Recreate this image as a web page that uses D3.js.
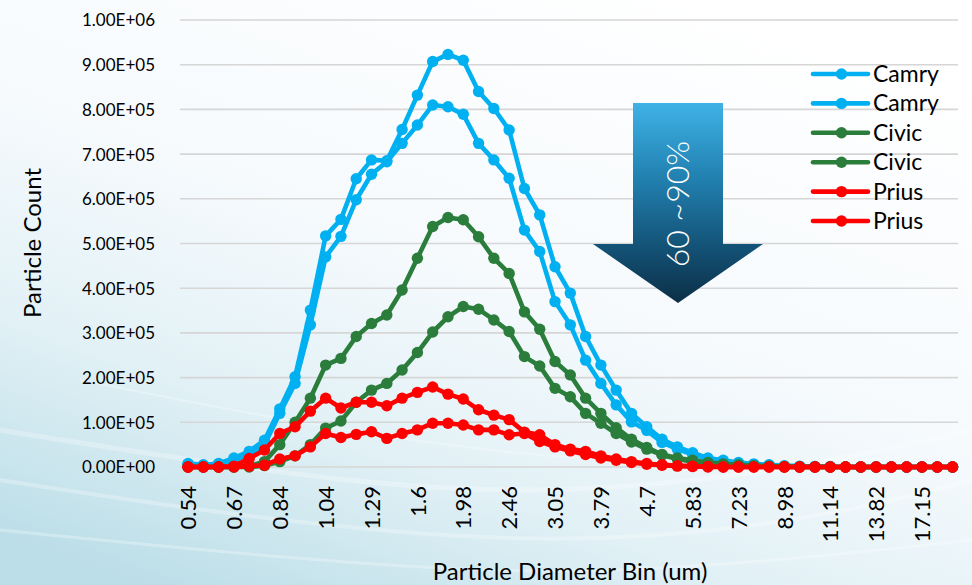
<!DOCTYPE html>
<html><head><meta charset="utf-8">
<script src="https://cdn.jsdelivr.net/npm/d3@7"></script>
<style>
body{margin:0;overflow:hidden;background:#fff}
svg{display:block}
text{font-family:Lato,"Open Sans",sans-serif;fill:#000}
</style>
</head><body>
<svg id="c" width="972" height="585"></svg>
<script>
// ---------------- data ----------------
const categories = ["0.54","0.58","0.63","0.67","0.72","0.78","0.84","0.9","0.97","1.04","1.11","1.2","1.29","1.38","1.49","1.6","1.72","1.84","1.98","2.13","2.29","2.46","2.64","2.84","3.05","3.28","3.52","3.79","4.07","4.37","4.7","5.05","5.42","5.83","6.26","6.73","7.23","7.77","8.35","8.98","9.65","10.37","11.14","11.97","12.86","13.82","14.86","15.96","17.15","18.43","19.81"];

const camry1 = [8000,5000,8000,20000,35000,60000,130000,202000,351000,517000,554000,645000,687000,685000,755000,832000,907000,923000,910000,840000,802000,754000,623000,564000,448000,389000,292000,228000,172000,120000,90000,62000,45000,32000,20000,15000,10000,7000,5000,3000,2000,1000,1000,0,0,0,0,0,0,0,0];
const camry2 = [6000,4000,6000,15000,28000,50000,120000,187000,318000,470000,516000,598000,655000,683000,724000,765000,810000,806000,789000,724000,687000,646000,530000,482000,370000,318000,239000,187000,139000,101000,82000,55000,40000,28000,18000,12000,8000,5000,4000,2000,1000,1000,0,0,0,0,0,0,0,0,0];
const civic1 = [0,0,0,0,2000,12000,50000,100000,154000,228000,243000,292000,321000,340000,396000,467000,538000,558000,553000,515000,467000,433000,347000,308000,236000,206000,154000,120000,88000,62000,44000,28000,20000,15000,10000,7000,5000,3000,2000,1000,0,0,0,0,0,0,0,0,0,0,0];
const civic2 = [0,0,0,0,0,3000,12000,25000,50000,87000,103000,145000,172000,187000,217000,256000,302000,336000,359000,353000,329000,303000,247000,226000,176000,157000,120000,98000,75000,56000,40000,27000,18000,12000,8000,5000,3000,2000,1000,0,0,0,0,0,0,0,0,0,0,0,0];
const prius1 = [0,0,0,2000,19000,38000,75000,90000,125000,154000,132000,145000,145000,137000,154000,167000,179000,163000,152000,128000,116000,106000,78000,72000,50000,40000,35000,25000,18000,12000,8000,5000,3000,2000,1000,0,0,0,0,0,0,0,0,0,0,0,0,0,0,0,0];
const prius2 = [0,0,0,0,2000,4000,18000,25000,45000,75000,66000,73000,79000,64000,75000,83000,98000,98000,94000,83000,83000,72000,75000,57000,45000,36000,28000,20000,15000,10000,6000,4000,2000,1000,0,0,0,0,0,0,0,0,0,0,0,0,0,0,0,0,0];

const seriesNames = ["Camry","Camry","Civic","Civic","Prius","Prius"];
const seriesValues = [camry1, camry2, civic1, civic2, prius1, prius2];
const yTicks = [0,100000,200000,300000,400000,500000,600000,700000,800000,900000,1000000];
const xLabelEvery = 3;
const arrowLabel = "60 ~90%";
const xTitle = "Particle Diameter Bin (um)";
const yTitle = "Particle Count";

// ---------------- styles ----------------
const colors = {Camry:"#00b0f0", Civic:"#2b7d3c", Prius:"#ff0000"};
const W = 972, H = 585;
const plot = {left:180.4, right:960.2, top:20, bottom:467};

const svg = d3.select("#c");
const defs = svg.append("defs");

// background
const bg = defs.append("linearGradient").attr("id","bg")
  .attr("x1","0.75").attr("y1","0").attr("x2","0.15").attr("y2","1");
[["0","#ffffff"],["0.45","#f6fafd"],["0.72","#e2f1f6"],["1","#bcdee8"]]
  .forEach(([o,c])=>bg.append("stop").attr("offset",o).attr("stop-color",c));
svg.append("rect").attr("width",W).attr("height",H).attr("fill","url(#bg)");

// faint wave streaks (decoration)
const waveG = svg.append("g").attr("fill","none").attr("stroke","#ffffff").attr("stroke-linecap","round");
const waveLine = d3.line().curve(d3.curveBasis);
const waves = [
  [[0,430],[250,470],[520,500],[800,470],[972,430]],
  [[0,480],[260,520],[560,548],[820,520],[972,480]],
  [[0,530],[300,560],[600,580],[972,540]],
  [[80,380],[330,430],[620,470],[972,455]]
];
waves.forEach((w,i)=>waveG.append("path").attr("d",waveLine(w))
  .attr("stroke-width",5-i).attr("stroke-opacity",0.28));

// scales
const x = d3.scalePoint().domain(categories).range([plot.left, plot.right]).padding(0.5);
const y = d3.scaleLinear().domain([0,1000000]).range([plot.bottom, plot.top]);

function fmtE(v){
  if(v===0) return "0.00E+00";
  const e = Math.floor(Math.log10(v));
  const m = v/Math.pow(10,e);
  return m.toFixed(2)+"E"+(e<0?"-":"+")+String(Math.abs(e)).padStart(2,"0");
}

// gridlines
svg.append("g").selectAll("line").data(yTicks).join("line")
  .attr("x1",180).attr("x2",958)
  .attr("y1",d=>y(d)).attr("y2",d=>y(d))
  .attr("stroke","#d6d6d6").attr("stroke-width",1.6);

// y axis labels
const yAxis = d3.axisLeft(y).tickValues(yTicks).tickFormat(fmtE).tickSize(0).tickPadding(0);
const yg = svg.append("g").attr("transform","translate(155,0)").call(yAxis);
yg.select(".domain").remove();
yg.selectAll("text").attr("font-size",17).attr("dy","0.35em")
  .style("font-family","Lato, sans-serif").attr("fill","#000");

// x axis labels
const xAxis = d3.axisBottom(x).tickValues(categories.filter((d,i)=>i%xLabelEvery===0)).tickSize(0).tickPadding(0);
const xg = svg.append("g").attr("transform","translate(0,486)").call(xAxis);
xg.select(".domain").remove();
xg.selectAll("text")
  .attr("font-size",22).attr("text-anchor","end")
  .attr("transform","rotate(-90)")
  .attr("x",0).attr("y",0).attr("dy","0.35em")
  .style("font-family","Lato, sans-serif").attr("fill","#000");

// axis titles
svg.append("text").attr("x",570).attr("y",580).attr("text-anchor","middle")
  .attr("font-size",24).text(xTitle);
svg.append("text").attr("transform","translate(41,243) rotate(-90)")
  .attr("text-anchor","middle").attr("font-size",24).text(yTitle);

// series
const line = d3.line().x((d,i)=>x(categories[i])).y(d=>y(d));
const sg = svg.append("g");
seriesValues.forEach((vals,k)=>{
  const col = colors[seriesNames[k]];
  const g = sg.append("g");
  g.append("path").attr("d",line(vals)).attr("fill","none")
    .attr("stroke",col).attr("stroke-width",4.6).attr("stroke-linejoin","round");
  g.selectAll("circle").data(vals).join("circle")
    .attr("cx",(d,i)=>x(categories[i])).attr("cy",d=>y(d)).attr("r",5.7)
    .attr("fill",col);
});

// arrow annotation
const ag = defs.append("linearGradient").attr("id","arrowGrad")
  .attr("x1","0").attr("y1","0").attr("x2","0").attr("y2","1");
[["0","#3fb2e6"],["0.35","#2384b4"],["0.7","#14557a"],["1","#0b2f46"]]
  .forEach(([o,c])=>ag.append("stop").attr("offset",o).attr("stop-color",c));
const arrowPts = [[633,103],[723,103],[723,244],[763,244],[678,303],[593,244],[633,244]];
svg.append("path").attr("d","M"+arrowPts.map(p=>p.join(",")).join("L")+"Z")
  .attr("fill","url(#arrowGrad)");
svg.append("text").attr("transform","translate(678,204) rotate(-90)")
  .attr("text-anchor","middle").attr("dy","0.35em")
  .attr("font-size",32).attr("font-weight",300).style("fill","#ffffff")
  .text(arrowLabel);

// legend
const lg = svg.append("g");
const legY0 = 74, legStep = 29.4;
seriesNames.forEach((n,k)=>{
  const yy = legY0 + k*legStep;
  const col = colors[n];
  lg.append("line").attr("x1",813).attr("x2",868).attr("y1",yy).attr("y2",yy)
    .attr("stroke",col).attr("stroke-width",4.6).attr("stroke-linecap","round");
  lg.append("circle").attr("cx",841.5).attr("cy",yy).attr("r",5.7).attr("fill",col);
  lg.append("text").attr("x",873).attr("y",yy).attr("dy","0.35em")
    .attr("font-size",23).text(n);
});
</script>
</body></html>
